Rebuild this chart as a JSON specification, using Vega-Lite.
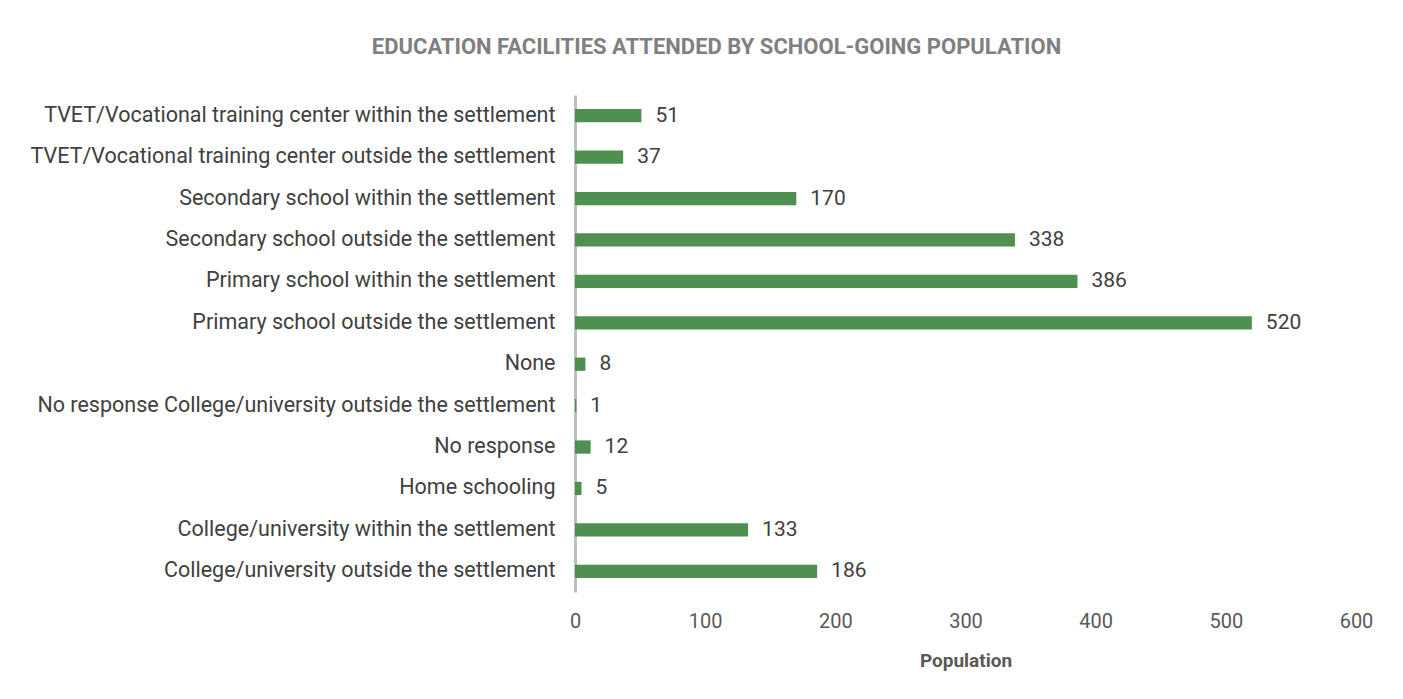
{
  "$schema": "https://vega.github.io/schema/vega-lite/v6.json",
  "width": 781,
  "height": 497,
  "autosize": {"type": "none"},
  "padding": {"left": 575, "top": 95, "right": 47, "bottom": 107},
  "background": "white",
  "title": {
    "text": "EDUCATION FACILITIES ATTENDED BY SCHOOL-GOING POPULATION",
    "anchor": "middle",
    "dx": -249,
    "offset": 36,
    "font": "Roboto",
    "fontSize": 22,
    "fontWeight": "bold",
    "color": "#808080"
  },
  "data": {
    "values": [
      {"facility": "TVET/Vocational training center within the settlement", "population": 51},
      {"facility": "TVET/Vocational training center outside the settlement", "population": 37},
      {"facility": "Secondary school within the settlement", "population": 170},
      {"facility": "Secondary school outside the settlement", "population": 338},
      {"facility": "Primary school within the settlement", "population": 386},
      {"facility": "Primary school outside the settlement", "population": 520},
      {"facility": "None", "population": 8},
      {"facility": "No response College/university outside the settlement", "population": 1},
      {"facility": "No response", "population": 12},
      {"facility": "Home schooling", "population": 5},
      {"facility": "College/university within the settlement", "population": 133},
      {"facility": "College/university outside the settlement", "population": 186}
    ]
  },
  "config": {
    "view": {"stroke": null},
    "font": "Roboto"
  },
  "encoding": {
    "y": {
      "field": "facility",
      "type": "nominal",
      "sort": null,
      "scale": {"paddingInner": 0.68, "paddingOuter": 0.34},
      "axis": {
        "title": null,
        "ticks": false,
        "domainColor": "#bfbfbf",
        "domainWidth": 3,
        "labelFont": "Roboto",
        "labelFontSize": 21.5,
        "labelFontWeight": "normal",
        "labelColor": "#404040",
        "labelPadding": 20,
        "labelLimit": 700
      }
    },
    "x": {
      "field": "population",
      "type": "quantitative",
      "scale": {"domain": [0, 600], "nice": false},
      "axis": {
        "title": "Population",
        "titleFont": "Roboto",
        "titleFontSize": 19,
        "titleFontWeight": "bold",
        "titleColor": "#595959",
        "titlePadding": 20,
        "values": [0, 100, 200, 300, 400, 500, 600],
        "labelOverlap": false,
        "labelFlush": false,
        "domain": false,
        "ticks": false,
        "grid": false,
        "labelFont": "Roboto",
        "labelFontSize": 20,
        "labelFontWeight": "normal",
        "labelColor": "#595959",
        "labelPadding": 19
      }
    }
  },
  "layer": [
    {"mark": {"type": "bar", "color": "#4f8f50"}},
    {
      "mark": {"type": "text", "align": "left", "dx": 14, "font": "Roboto", "fontSize": 21, "fontWeight": "normal", "color": "#404040"},
      "encoding": {"text": {"field": "population", "type": "quantitative"}}
    }
  ]
}
